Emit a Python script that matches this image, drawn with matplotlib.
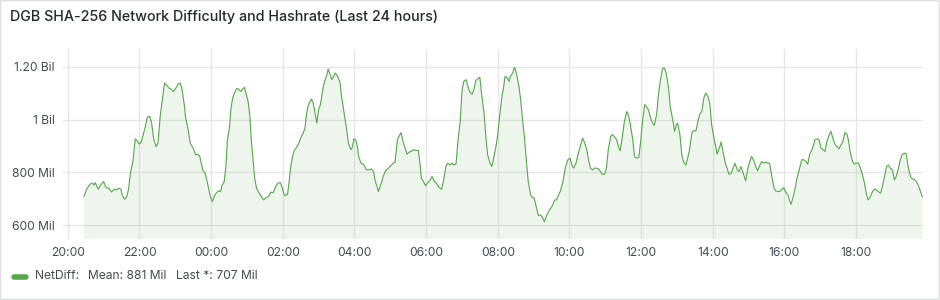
"""DGB SHA-256 network difficulty, last 24 hours (Grafana-style panel)."""

from datetime import datetime, timedelta

import matplotlib
matplotlib.use("Agg")
import matplotlib.pyplot as plt
import matplotlib.dates as mdates
from matplotlib.patches import FancyBboxPatch
from matplotlib.lines import Line2D

TITLE = "DGB SHA-256 Network Difficulty and Hashrate (Last 24 hours)"
SERIES_NAME = "NetDiff"

# Window start and end (now-24h .. now)
window_start = datetime(2024, 1, 1, 19, 52)
window_end = datetime(2024, 1, 2, 19, 52)
base_time = datetime(2024, 1, 1, 20, 0)

# Minutes after 20:00, NetDiff in millions
minutes = [
    27, 31, 37, 41, 44, 46, 51, 55, 60, 64, 69, 73, 78, 82, 85, 89, 91, 95, 99, 102,
    105, 109, 113, 117, 120, 123, 127, 130, 133, 137, 140, 144, 148, 151, 155, 158,
    162, 166, 169, 173, 177, 181, 185, 188, 191, 195, 197, 201, 205, 210, 214, 217, 221,
    226, 230, 234, 238, 242, 245, 249, 253, 256, 258, 262, 265, 267, 271, 273, 276, 279,
    283, 286, 290, 293, 296, 299, 302, 305, 307, 310, 313, 316, 320, 324, 328, 332, 336,
    340, 344, 348, 352, 356, 359, 362, 364, 368, 370, 373, 377, 380, 383, 387, 390, 394,
    397, 400, 403, 408, 411, 414, 417, 420, 423,
    428, 431, 434, 436, 439, 442, 446, 448, 452, 456, 458, 461, 463, 467, 470, 474, 476,
    479, 482, 485, 487, 491, 496, 500, 504, 508, 512, 515, 518, 520, 523, 525, 528, 532,
    535, 538, 542, 545, 548, 552, 555, 558, 562, 565, 568, 572, 575, 578, 583, 587, 590,
    592, 595, 599, 602, 606, 610, 613, 617, 622, 626,
    630, 633, 636, 640, 643, 646, 650, 653, 657, 660, 663, 667, 670, 673, 677, 680, 683,
    687, 690, 693, 697, 700, 703, 707, 710, 713, 717, 720, 723, 727, 730, 732, 735, 739,
    741, 745, 748, 751, 755, 758, 761, 765, 768, 771, 775, 778, 781, 785, 788, 792, 795,
    798, 802, 805, 808, 812, 815, 818, 822, 825,
    829, 833, 837, 841, 844, 847, 851, 855, 859, 862, 865, 869, 872, 875, 879, 882, 885,
    889, 892, 895, 899, 902, 905, 909, 912, 915, 919, 922, 925, 929, 932, 936, 939, 942,
    946, 949, 952, 956, 959, 962, 966, 969, 972, 976, 979, 982, 986, 989, 992, 996, 999,
    1002, 1006, 1009, 1013, 1016, 1019, 1021, 1025,
    1028, 1031, 1035, 1038, 1041, 1045, 1048, 1052, 1055, 1058, 1062, 1065, 1068, 1072,
    1075, 1078, 1082, 1085, 1087, 1091, 1094, 1097, 1101, 1104, 1107, 1111, 1114, 1117,
    1121, 1124, 1127, 1131, 1135, 1139, 1142, 1145, 1149, 1152, 1155, 1159, 1162, 1165,
    1169, 1172, 1175, 1179, 1182, 1185, 1189, 1192, 1195, 1199, 1202, 1206, 1209, 1211,
    1214, 1218, 1221, 1224,
    1229, 1232, 1236, 1239, 1242, 1246, 1249, 1251, 1255, 1258, 1261, 1265, 1268, 1271,
    1275, 1278, 1281, 1285, 1288, 1291, 1295, 1298, 1301, 1305, 1307, 1310, 1314, 1317,
    1320, 1324, 1327, 1330, 1334, 1337, 1340, 1344, 1347, 1351, 1354, 1357, 1361, 1364,
    1367, 1371, 1374, 1377, 1381, 1384, 1387, 1391, 1394, 1397, 1401, 1404, 1407, 1411,
    1414, 1417, 1421, 1424, 1427, 1431,
]
netdiff_mil = [
    708, 733, 755, 759, 752, 761, 736, 752, 765, 742, 740, 725, 736, 733, 740, 736, 714, 698, 708, 740,
    800, 841, 927, 917, 907, 915, 949, 974, 1009, 1012, 993, 924, 898, 911, 1019, 1069,
    1139, 1130, 1120, 1116, 1107, 1120, 1135, 1139, 1120, 1057, 1012, 968, 911, 892, 867, 869, 860,
    809, 797, 759, 714, 689, 708, 723, 730, 727, 749, 765, 828, 917, 974, 1038, 1082, 1101,
    1118, 1116, 1107, 1116, 1123, 1095, 1069, 1012, 930, 854, 778, 740, 723, 708, 695, 704, 708,
    725, 723, 746, 759, 761, 742, 717, 711, 717, 752, 816, 867, 886, 894, 911, 930, 949,
    965, 1025, 1057, 1078, 1063, 1025, 987, 1038, 1057,
    1126, 1152, 1171, 1192, 1173, 1152, 1168, 1177, 1164, 1139, 1095, 1050, 1019, 962, 911, 886, 892,
    927, 924, 898, 860, 835, 828, 809, 809, 813, 803, 765, 746, 727, 746, 759, 784, 806,
    812, 818, 828, 835, 839, 924, 939, 951, 911, 892, 869, 877, 879, 886, 883, 883, 828,
    778, 768, 749, 759, 768, 784, 768, 759, 742, 736,
    778, 822, 835, 828, 835, 828, 831, 911, 993, 1107, 1145, 1152, 1126, 1105, 1097, 1114, 1148,
    1156, 1161, 1095, 1025, 936, 867, 835, 822, 854, 898, 943, 1012, 1088, 1126, 1164, 1161, 1145,
    1164, 1177, 1199, 1177, 1133, 1082, 1012, 924, 841, 765, 714, 704, 702, 664, 636, 638, 628,
    613, 638, 651, 661, 676, 695, 695, 714, 730,
    763, 816, 847, 854, 828, 816, 835, 873, 905, 930, 915, 886, 847, 816, 809, 816, 816,
    813, 803, 793, 793, 816, 886, 936, 943, 936, 924, 898, 882, 943, 993, 1031, 1016, 981,
    924, 860, 854, 856, 911, 987, 1057, 1050, 1038, 1006, 987, 978, 1019, 1095, 1145, 1194, 1196,
    1177, 1120, 1044, 1000, 955, 981, 987, 943,
    867, 839, 828, 854, 886, 949, 958, 958, 993, 1019, 1034, 1082, 1101, 1088,
    1063, 981, 930, 898, 869, 892, 915, 879, 835, 816, 793, 797, 816, 835,
    809, 803, 822, 797, 768, 818, 841, 860, 844, 822, 806, 828, 841, 835,
    839, 835, 835, 784, 746, 730, 727, 727, 733, 742, 725, 714, 689, 679,
    702, 740, 778, 803,
    848, 848, 841, 831, 867, 886, 905, 924, 927, 924, 892, 886, 879, 917,
    943, 955, 930, 905, 898, 889, 905, 917, 951, 943, 924, 879, 841, 831,
    835, 835, 816, 797, 759, 721, 695, 708, 725, 737, 733, 727, 721, 746,
    778, 822, 828, 816, 809, 771, 784, 816, 848, 867, 873, 870, 822, 784,
    775, 774, 765, 752, 733, 707,
]

# Legend stats as shown in the panel
legend_mean_mil = 881
legend_last_mil = 707

y_ticks = [600, 800, 1000, 1200]
y_tick_labels = ["600 Mil", "800 Mil", "1 Bil", "1.20 Bil"]

LINE_COLOR = "#56a64b"
TEXT_COLOR = "#24292e"
TICK_COLOR = "#464c54"
GRID_COLOR = "#e6e6e8"


def main() -> None:
    plt.rcParams["font.family"] = ["Inter", "DejaVu Sans"]

    times = [base_time + timedelta(minutes=m) for m in minutes]

    fig = plt.figure(figsize=(9.4, 3.0), dpi=100)
    fig.patch.set_facecolor("white")

    # panel frame
    frame = FancyBboxPatch((0.5 / 940, 0.5 / 300), 939 / 940, 299 / 300,
                           boxstyle="round,pad=0,rounding_size=0.004",
                           transform=fig.transFigure, facecolor="none",
                           edgecolor="#dcdde0", linewidth=1.0, zorder=5)
    fig.add_artist(frame)

    fig.text(10 / 940, 1 - 17 / 300, TITLE, fontsize=10.3, fontweight="medium",
             color=TEXT_COLOR, ha="left", va="center")

    ax = fig.add_axes([63 / 940, 1 - 239 / 300, 860 / 940, 190 / 300])
    ax.plot(times, netdiff_mil, color=LINE_COLOR, linewidth=0.8, zorder=3)
    ax.fill_between(times, netdiff_mil, 0, color=LINE_COLOR, alpha=0.1,
                    linewidth=0, zorder=2)

    ax.set_xlim(window_start, window_end)
    ax.set_ylim(547, 1268)
    ax.set_yticks(y_ticks)
    ax.set_yticklabels(y_tick_labels)
    ax.xaxis.set_major_locator(mdates.HourLocator(byhour=range(0, 24, 2)))
    ax.xaxis.set_major_formatter(mdates.DateFormatter("%H:%M"))

    ax.grid(True, color=GRID_COLOR, linewidth=1.0, zorder=1)
    ax.set_axisbelow(True)
    for s in ax.spines.values():
        s.set_visible(False)
    ax.tick_params(axis="both", length=0, labelsize=8.7, colors=TICK_COLOR)
    ax.tick_params(axis="y", pad=6)
    ax.tick_params(axis="x", pad=6)

    # legend row
    fig.add_artist(Line2D([14 / 940, 26 / 940], [1 - 277 / 300] * 2,
                          transform=fig.transFigure, color=LINE_COLOR,
                          linewidth=4, solid_capstyle="round"))
    y_leg = 1 - 276 / 300
    fig.text(35 / 940, y_leg, f"{SERIES_NAME}:", fontsize=8.7, color=TICK_COLOR,
             va="center")
    fig.text(88 / 940, y_leg, f"Mean: {legend_mean_mil} Mil", fontsize=8.7,
             color=TICK_COLOR, va="center")
    fig.text(176 / 940, y_leg, f"Last *: {legend_last_mil} Mil", fontsize=8.7,
             color=TICK_COLOR, va="center")

    fig.savefig("out.png", dpi=100, facecolor="white")
    plt.close(fig)


if __name__ == "__main__":
    main()
